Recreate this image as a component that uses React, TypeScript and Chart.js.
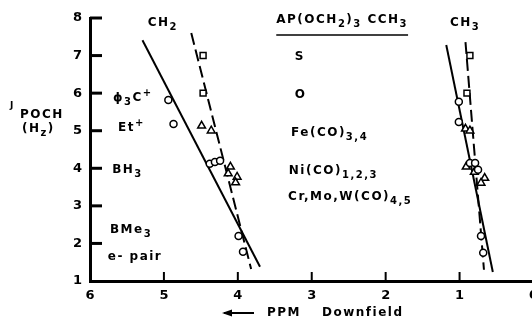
import React, { useEffect, useRef } from "react";
import { Chart, registerables } from "chart.js";

Chart.register(...registerables);

// ---- data (x = PPM downfield, y = J_POCH in Hz) ----
const xTickValues = [6, 5, 4, 3, 2, 1, 0];
const yTickValues = [1, 2, 3, 4, 5, 6, 7, 8];

const ch2Squares = [[4.47, 7.0], [4.47, 6.0]];
const ch2Circles = [[4.94, 5.82], [4.87, 5.18], [4.38, 4.12], [4.31, 4.17], [4.24, 4.2], [3.99, 2.2], [3.93, 1.78]];
const ch2Triangles = [[4.49, 5.13], [4.36, 5.0], [4.1, 4.04], [4.13, 3.86], [4.01, 3.77], [4.03, 3.62]];

const ch3Squares = [[0.86, 7.0], [0.9, 6.0]];
const ch3Circles = [[1.01, 5.77], [1.01, 5.23], [0.86, 4.14], [0.79, 4.14], [0.75, 3.96], [0.71, 2.2], [0.68, 1.75]];
const ch3Triangles = [[0.92, 5.05], [0.86, 5.0], [0.91, 4.04], [0.8, 3.9], [0.66, 3.74], [0.71, 3.61]];

const ch2SolidFit = [[5.29, 7.41], [3.7, 1.38]];
const ch2DashedFit = [[4.63, 7.6], [3.82, 1.32]];
const ch3SolidFit = [[1.18, 7.28], [0.55, 1.24]];
const ch3DashedFit = [[0.92, 7.36], [0.67, 1.3]];

// text labels placed in data coordinates ("_{}" = subscript, "^{}" = superscript)
const labelTexts = ["CH_{2}", "AP(OCH_{2})_{3} CCH_{3}", "CH_{3}", "S", "O", "Fe(CO)_{3,4}", "Ni(CO)_{1,2,3}", "Cr,Mo,W(CO)_{4,5}", "ϕ_{3}C^{+}", "Et^{+}", "BH_{3}", "BMe_{3}", "e- pair"];
const labelX = [5.22, 3.48, 1.13, 3.23, 3.23, 3.28, 3.31, 3.32, 5.69, 5.62, 5.7, 5.73, 5.76];
const labelY = [7.87, 7.95, 7.87, 6.96, 5.95, 4.94, 3.93, 3.24, 5.87, 5.07, 3.96, 2.36, 1.64];
const underlinedLabel = 1;

const FONT = '"DejaVu Sans", sans-serif';

const toPts = (arr: number[][]) => arr.map(([x, y]) => ({ x, y }));

function parseRich(s: string) {
  const parts: { t: string; k: string }[] = [];
  const re = /([_^])\{([^}]*)\}/g;
  let last = 0;
  let m: RegExpExecArray | null;
  while ((m = re.exec(s))) {
    if (m.index > last) parts.push({ t: s.slice(last, m.index), k: "n" });
    parts.push({ t: m[2], k: m[1] === "_" ? "sub" : "sup" });
    last = m.index + m[0].length;
  }
  if (last < s.length) parts.push({ t: s.slice(last), k: "n" });
  return parts;
}

function drawRich(ctx: CanvasRenderingContext2D, s: string, x: number, y: number, size: number) {
  let cx = x;
  for (const p of parseRich(s)) {
    const fs = p.k === "n" ? size : Math.round(size * 0.8);
    ctx.font = `bold ${fs}px ${FONT}`;
    const dy = p.k === "sub" ? size * 0.4 : p.k === "sup" ? -size * 0.4 : 0;
    ctx.fillText(p.t, cx, y + dy);
    cx += ctx.measureText(p.t).width;
  }
  return cx;
}

const overlay = {
  id: "overlay",
  afterDraw(chart: any) {
    const { ctx, chartArea } = chart;
    const xs = chart.scales.x;
    const ys = chart.scales.y;
    ctx.save();
    ctx.fillStyle = "#000";
    ctx.strokeStyle = "#000";
    // inward tick marks
    ctx.lineWidth = 3;
    yTickValues.forEach((v) => {
      if (v === yTickValues[0]) return;
      const py = ys.getPixelForValue(v);
      ctx.beginPath();
      ctx.moveTo(chartArea.left, py);
      ctx.lineTo(chartArea.left + 12, py);
      ctx.stroke();
    });
    ctx.lineWidth = 2;
    xTickValues.forEach((v) => {
      if (v === xTickValues[0]) return;
      const px = xs.getPixelForValue(v);
      ctx.beginPath();
      ctx.moveTo(px, chartArea.bottom);
      ctx.lineTo(px, chartArea.bottom - 9);
      ctx.stroke();
    });
    // labels
    ctx.textBaseline = "middle";
    ctx.textAlign = "left";
    try { (ctx as any).letterSpacing = "1.5px"; } catch (e) {}
    labelTexts.forEach((t, i) => {
      const px = xs.getPixelForValue(labelX[i]);
      const py = ys.getPixelForValue(labelY[i]);
      const end = drawRich(ctx, t, px, py, 12);
      if (i === underlinedLabel) {
        ctx.lineWidth = 1.5;
        ctx.beginPath();
        ctx.moveTo(px, py + 15);
        ctx.lineTo(end, py + 15);
        ctx.stroke();
      }
    });
    // y axis title
    const tl = chartArea.left;
    drawRich(ctx, "J", tl - 80, 106, 9);
    drawRich(ctx, "POCH", tl - 70, 115, 12);
    drawRich(ctx, "(H_{z})", tl - 68, 129, 12);
    // x axis title
    const by = chartArea.bottom + 32;
    ctx.lineWidth = 2;
    ctx.beginPath();
    ctx.moveTo(224, by);
    ctx.lineTo(254, by);
    ctx.stroke();
    ctx.beginPath();
    ctx.moveTo(222, by);
    ctx.lineTo(232, by - 3.5);
    ctx.lineTo(232, by + 3.5);
    ctx.closePath();
    ctx.fill();
    drawRich(ctx, "PPM", 267, by, 12);
    drawRich(ctx, "Downfield", 322, by, 12);
    ctx.restore();
  },
};

export default function App() {
  const ref = useRef<HTMLCanvasElement>(null);
  useEffect(() => {
    if (!ref.current) return;
    const pointDs = (data: number[][], style: string, r: number) => ({
      data: toPts(data),
      pointStyle: style,
      pointRadius: r,
      pointBorderWidth: 1.5,
      pointBackgroundColor: "#fff",
      pointBorderColor: "#000",
      showLine: false,
    });
    const lineDs = (data: number[][], dashed: boolean) => ({
      data: toPts(data),
      showLine: true,
      borderColor: "#000",
      borderWidth: 2,
      borderDash: dashed ? [12, 5] : [],
      pointRadius: 0,
    });
    const chart = new Chart(ref.current, {
      type: "scatter",
      data: {
        datasets: [
          pointDs(ch2Squares, "rect", 4.2),
          pointDs(ch2Circles, "circle", 3.5),
          pointDs(ch2Triangles, "triangle", 4.5),
          pointDs(ch3Squares, "rect", 4.2),
          pointDs(ch3Circles, "circle", 3.5),
          pointDs(ch3Triangles, "triangle", 4.5),
          lineDs(ch2SolidFit, false),
          lineDs(ch2DashedFit, true),
          lineDs(ch3SolidFit, false),
          lineDs(ch3DashedFit, true),
        ] as any,
      },
      options: {
        animation: false,
        responsive: false,
        devicePixelRatio: 1,
        layout: { padding: { left: 0, right: 9, top: 18, bottom: 0 } },
        plugins: { legend: { display: false }, tooltip: { enabled: false } },
        scales: {
          x: {
            type: "linear",
            reverse: true,
            min: 0,
            max: 6,
            afterFit: (s: any) => { s.height = 39; },
            afterBuildTicks: (s: any) => { s.ticks = xTickValues.map((v) => ({ value: v })); },
            grid: { display: true, drawOnChartArea: false, drawTicks: false },
            border: { display: true, color: "#000", width: 3 },
            ticks: { padding: 7, color: "#000", font: { family: FONT, size: 13, weight: "bold" } },
          },
          y: {
            type: "linear",
            min: 1,
            max: 8,
            afterFit: (s: any) => { s.width = 90; },
            afterBuildTicks: (s: any) => { s.ticks = yTickValues.map((v) => ({ value: v })); },
            grid: { display: true, drawOnChartArea: false, drawTicks: false },
            border: { display: true, color: "#000", width: 3 },
            ticks: { padding: 8, color: "#000", font: { family: FONT, size: 13, weight: "bold" } },
          },
        },
      } as any,
      plugins: [overlay],
    });
    return () => chart.destroy();
  }, []);
  return (
    <div style={{ position: "fixed", left: 0, top: 0, width: 532, height: 320, overflow: "hidden", background: "#fff" }}>
      <canvas ref={ref} width={545} height={320} style={{ display: "block" }} />
    </div>
  );
}
